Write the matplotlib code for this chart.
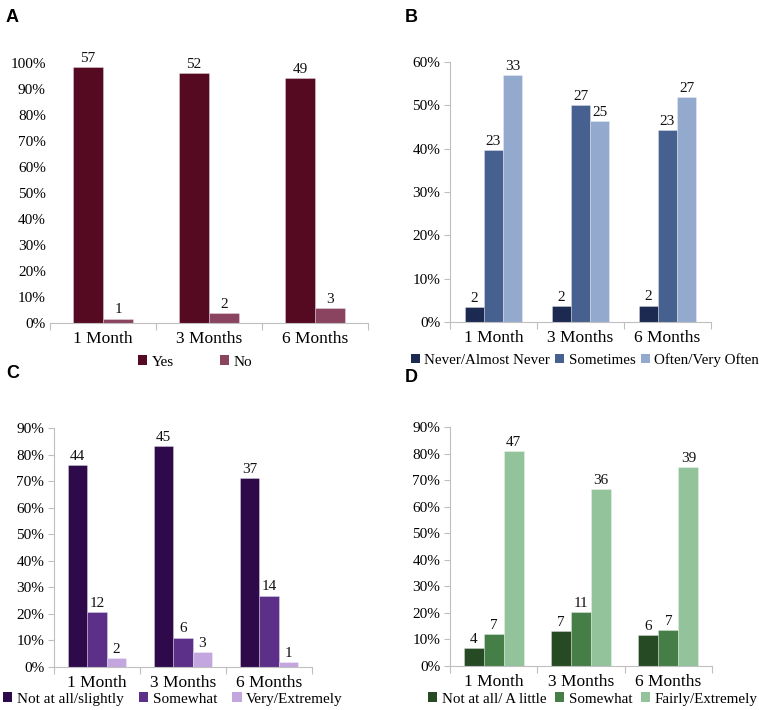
import matplotlib
matplotlib.use("Agg")
import matplotlib.pyplot as plt
from matplotlib.patches import Rectangle
import numpy as np

plt.rcParams['font.family'] = ['Liberation Serif', 'DejaVu Serif']

categories = ["1 Month", "3 Months", "6 Months"]

# Panel A
a_series = ["Yes", "No"]
a_pct = [[98.3, 96.3, 94.2], [1.7, 3.7, 5.8]]
a_counts = [[57, 52, 49], [1, 2, 3]]
a_colors = ["#550A22", "#8A4460"]

# Panel B
b_series = ["Never/Almost Never", "Sometimes", "Often/Very Often"]
b_pct = [[3.4, 3.7, 3.8], [39.7, 50.0, 44.2], [56.9, 46.3, 51.9]]
b_counts = [[2, 2, 2], [23, 27, 23], [33, 25, 27]]
b_colors = ["#1C2951", "#46618F", "#93A9CD"]

# Panel C
c_series = ["Not at all/slightly", "Somewhat", "Very/Extremely"]
c_pct = [[75.9, 83.3, 71.2], [20.7, 11.1, 26.9], [3.4, 5.6, 1.9]]
c_counts = [[44, 45, 37], [12, 6, 14], [2, 3, 1]]
c_colors = ["#2F0A4B", "#5C2F88", "#C2A6DD"]

# Panel D
d_series = ["Not at all/ A little", "Somewhat", "Fairly/Extremely"]
d_pct = [[6.9, 13.0, 11.5], [12.1, 20.4, 13.5], [81.0, 66.7, 75.0]]
d_counts = [[4, 7, 6], [7, 11, 7], [47, 36, 39]]
d_colors = ["#254A24", "#467E48", "#93C39A"]

W, H = 759, 710
fig = plt.figure(figsize=(W / 100, H / 100), dpi=100)


def px_axes(left, top, right, bottom):
    return fig.add_axes([left / W, 1 - bottom / H, (right - left) / W, (bottom - top) / H])


SPINE = "#BFBFBF"


def draw(ax, series, pct, counts, colors, ymax, width, show_left=True):
    n = len(series)
    x = np.arange(len(categories))
    for i in range(n):
        off = (i - (n - 1) / 2) * width
        bars = ax.bar(x + off, pct[i], width, color=colors[i],
                      edgecolor=(1, 1, 1, 0.35), linewidth=0.6, label=series[i])
        ax.bar_label(bars, labels=[str(c) for c in counts[i]], padding=1.5,
                     fontsize=11, color="#111111")
    ax.set_xlim(-0.5, len(categories) - 0.5)
    ax.set_ylim(0, ymax)
    ax.set_yticks(np.arange(0, ymax + 1, 10))
    ax.set_yticklabels([f"{int(v)}%" for v in np.arange(0, ymax + 1, 10)], fontsize=11)
    ax.set_xticks(np.arange(-0.5, len(categories), 1.0))
    ax.set_xticklabels([])
    ax.set_xticks(x, minor=True)
    ax.set_xticklabels(categories, minor=True, fontsize=12.5)
    ax.tick_params(axis="x", which="major", length=5, color=SPINE, width=0.8)
    ax.tick_params(axis="x", which="minor", length=0, pad=6)
    ax.tick_params(axis="y", length=4 if show_left else 0, color=SPINE, width=0.8, pad=3)
    for s in ["top", "right"]:
        ax.spines[s].set_visible(False)
    ax.spines["left"].set_visible(show_left)
    ax.spines["left"].set_color(SPINE)
    ax.spines["bottom"].set_color(SPINE)
    ax.spines["left"].set_linewidth(0.8)
    ax.spines["bottom"].set_linewidth(0.8)


def legend(series, colors, cx, cy, spacing, fs=11):
    handles = [Rectangle((0, 0), 1, 1, facecolor=c, edgecolor="none") for c in colors]
    fig.legend(handles, series, loc="center", bbox_to_anchor=(cx / W, 1 - cy / H),
               ncol=len(series), frameon=False, fontsize=fs, handlelength=0.6,
               handleheight=0.6, handletextpad=0.3, columnspacing=spacing,
               borderaxespad=0, borderpad=0)


axA = px_axes(50, 63, 368, 323)
draw(axA, a_series, a_pct, a_counts, a_colors, 100, 0.283, show_left=False)
legend(a_series, a_colors, 195, 362, 3.0)

axB = px_axes(450, 62, 711, 322)
draw(axB, b_series, b_pct, b_counts, b_colors, 60, 0.22)
legend(b_series, b_colors, 585, 360, 0.35, fs=10.8)

axC = px_axes(54, 428, 312, 667)
draw(axC, c_series, c_pct, c_counts, c_colors, 90, 0.225)
legend(c_series, c_colors, 173, 699, 1.0)

axD = px_axes(450, 427, 712, 666)
draw(axD, d_series, d_pct, d_counts, d_colors, 90, 0.23)
legend(d_series, d_colors, 593, 699, 0.6, fs=10.8)

for lab, x, y in [("A", 6, 9), ("B", 405, 9), ("C", 6, 365), ("D", 405, 369)]:
    fig.text(x / W, 1 - y / H, lab, fontsize=13, fontweight="bold",
             family=["Liberation Sans", "DejaVu Sans"], va="top", ha="left")

fig.savefig("out.png", dpi=100)
